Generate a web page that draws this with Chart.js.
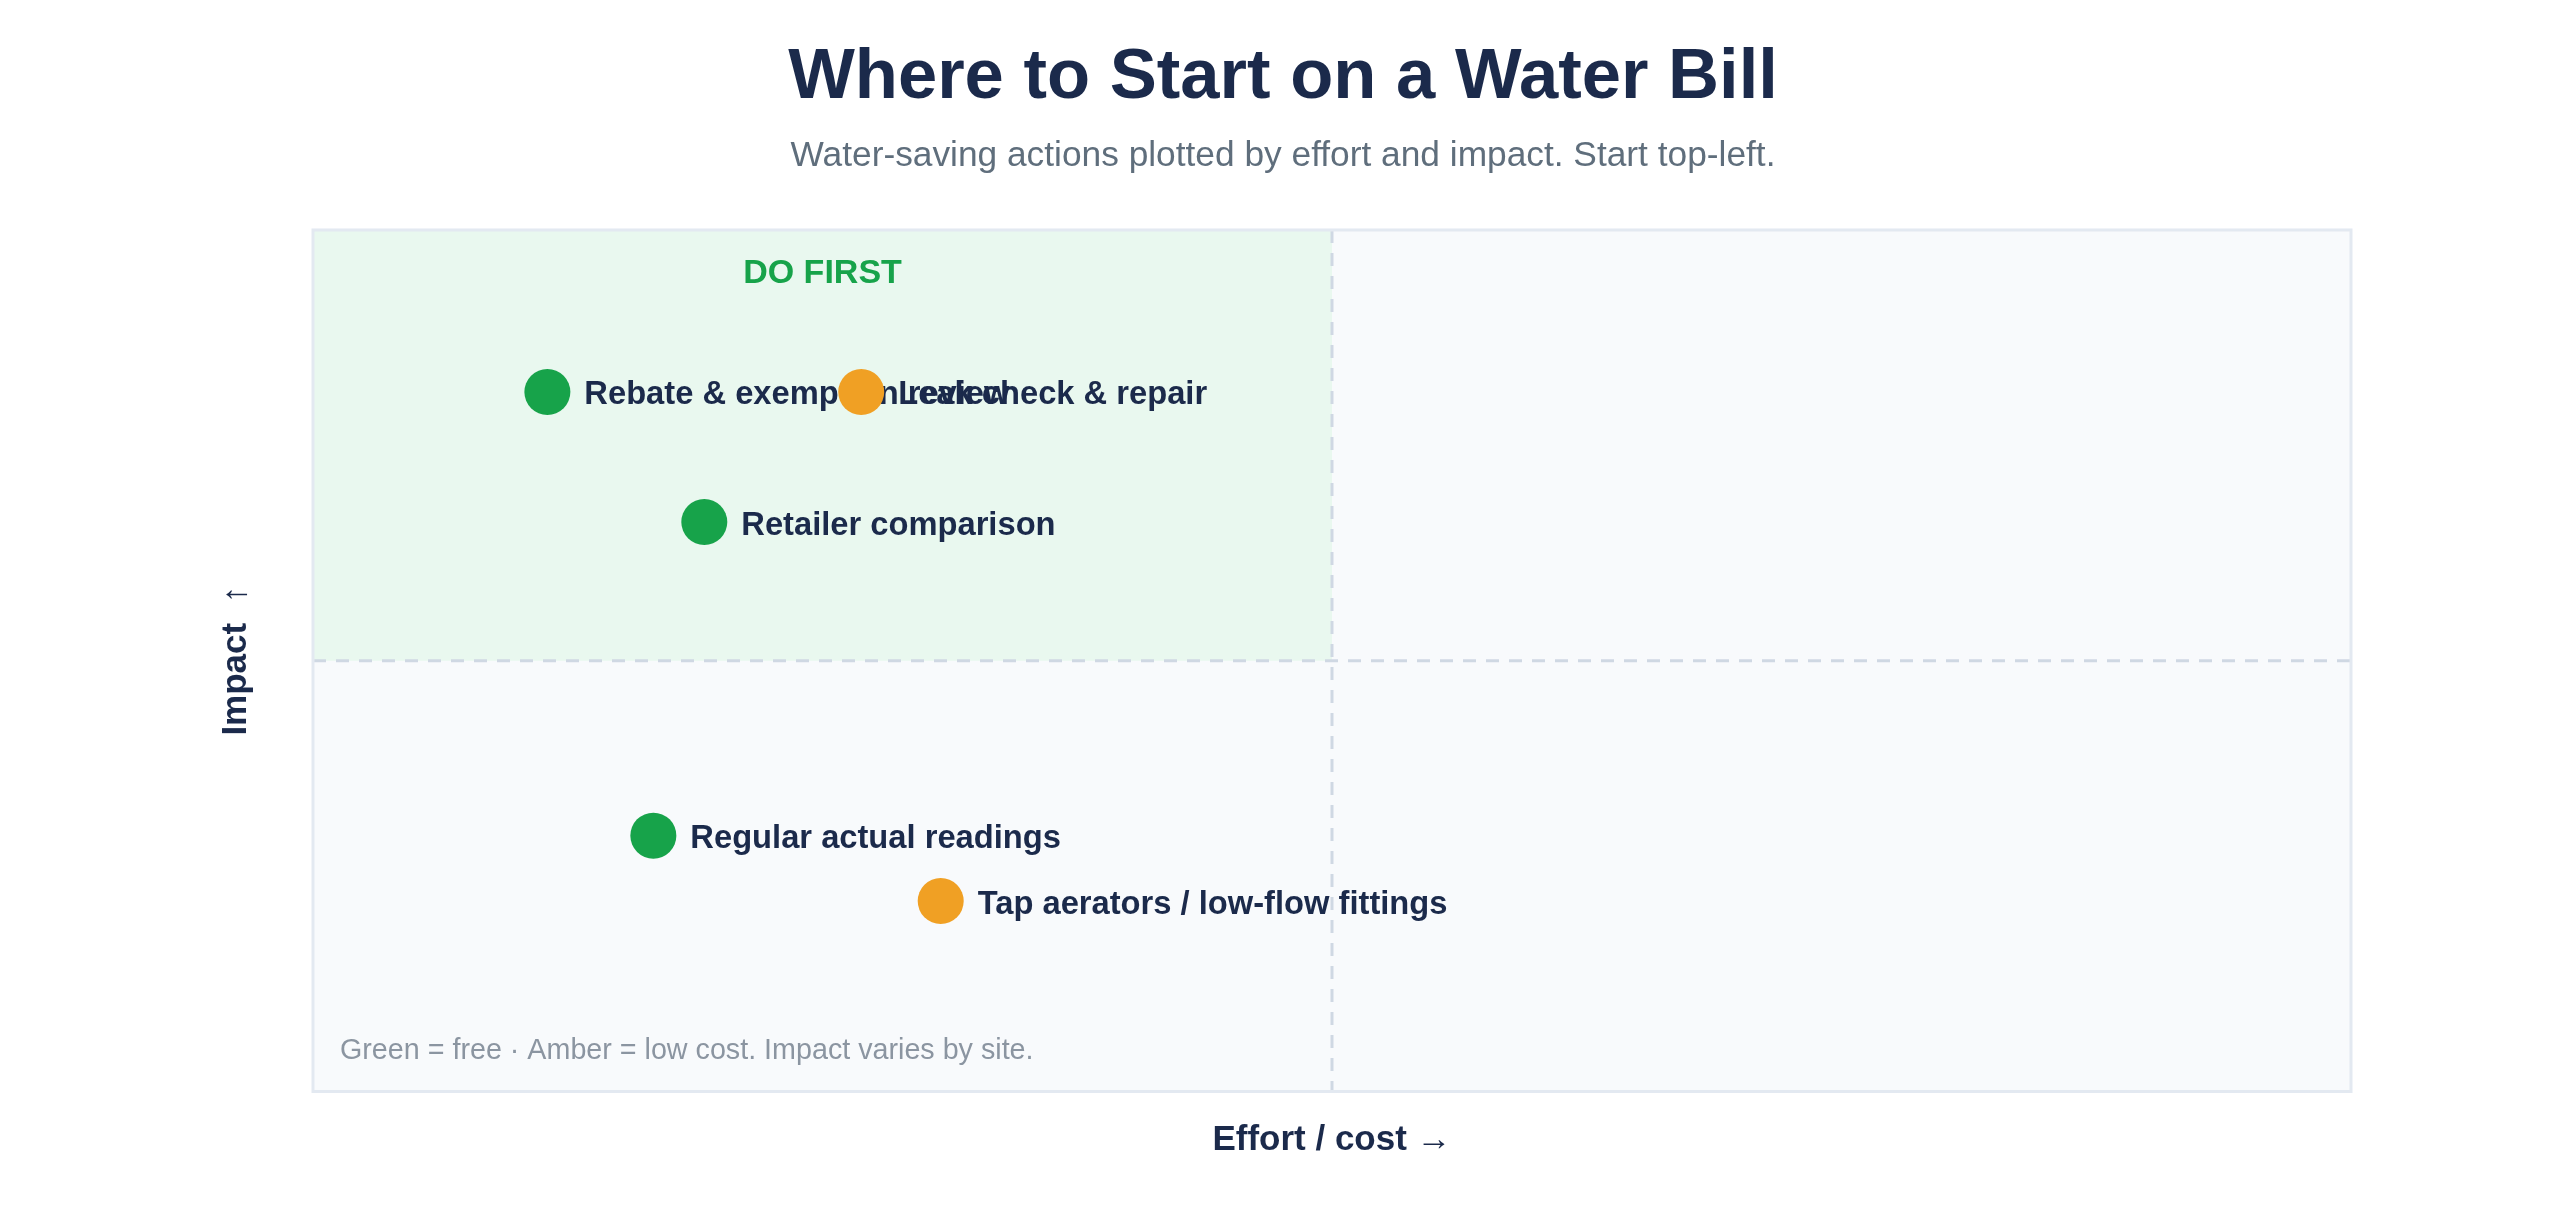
<!DOCTYPE html>
<html>
<head>
<meta charset="utf-8">
<script src="https://cdn.jsdelivr.net/npm/chart.js@4/dist/chart.umd.min.js"></script>
<style>
  html, body { margin: 0; padding: 0; background: #ffffff; }
  #wrap { width: 2560px; height: 1215px; position: relative; }
</style>
</head>
<body>
<div id="wrap"><canvas id="c" width="2560" height="1215"></canvas></div>
<script>
const actions = ['Rebate & exemption review', 'Leak check & repair', 'Retailer comparison', 'Regular actual readings', 'Tap aerators / low-flow fittings'];
const effort = [1.15, 2.69, 1.92, 1.67, 3.08];
const impact = [8.12, 8.12, 6.61, 2.97, 2.21];
const cost = ['free', 'low', 'free', 'free', 'low'];
const axisMin = 0;
const axisMax = 10;
const splitEffort = 5;
const splitImpact = 5;
const quadrantLabel = 'DO FIRST';
const footnote = 'Green = free \u00b7 Amber = low cost. Impact varies by site.';

const FONT = '"Liberation Sans", Arial, Helvetica, sans-serif';
const NAVY = '#1b2a4b';
const costColor = { free: '#17a34a', low: '#f0a024' };

const datasets = actions.map((name, i) => ({
  label: name,
  data: [{ x: effort[i], y: impact[i] }],
  backgroundColor: costColor[cost[i]],
  borderWidth: 0,
  pointRadius: 23,
  pointHoverRadius: 23,
  order: actions.length - i
}));

const quadrantPlugin = {
  id: 'quadrants',
  beforeDatasetsDraw(chart) {
    const { ctx, chartArea: a, scales: { x, y } } = chart;
    const mx = x.getPixelForValue(splitEffort);
    const my = y.getPixelForValue(splitImpact);
    ctx.save();
    ctx.fillStyle = '#f8fafc';
    ctx.fillRect(a.left, a.top, a.right - a.left, a.bottom - a.top);
    ctx.fillStyle = '#e9f8ef';
    ctx.fillRect(a.left, a.top, mx - a.left, my - a.top);
    // dashed dividers
    ctx.strokeStyle = '#cfd8e3';
    ctx.lineWidth = 3;
    ctx.setLineDash([13, 10]);
    ctx.beginPath();
    ctx.moveTo(mx, a.top); ctx.lineTo(mx, a.bottom);
    ctx.moveTo(a.left, my); ctx.lineTo(a.right, my);
    ctx.stroke();
    ctx.setLineDash([]);
    // border
    ctx.strokeStyle = '#e3e9f1';
    ctx.lineWidth = 3;
    ctx.strokeRect(a.left, a.top, a.right - a.left, a.bottom - a.top);
    // quadrant label
    ctx.fillStyle = '#17a34a';
    ctx.font = 'bold 34px ' + FONT;
    ctx.textAlign = 'center';
    ctx.textBaseline = 'middle';
    ctx.fillText(quadrantLabel, (a.left + mx) / 2, a.top + 43.5);
    // footnote
    ctx.fillStyle = '#8b95a1';
    ctx.font = '28.7px ' + FONT;
    ctx.textAlign = 'left';
    ctx.fillText(footnote, a.left + 27, a.bottom - 40.5);
    ctx.restore();
  },
  afterDatasetDraw(chart, args) {
    const { ctx } = chart;
    const el = args.meta.data[0];
    if (!el) return;
    ctx.save();
    ctx.fillStyle = NAVY;
    ctx.font = 'bold 32.7px ' + FONT;
    ctx.textAlign = 'left';
    ctx.textBaseline = 'middle';
    ctx.fillText(actions[args.index], el.x + 37, el.y + 3.5);
    ctx.restore();
  }
};

new Chart(document.getElementById('c'), {
  type: 'scatter',
  data: { datasets },
  plugins: [quadrantPlugin],
  options: {
    responsive: false,
    animation: false,
    devicePixelRatio: 1,
    layout: { padding: { left: 215, right: 209, top: 0, bottom: 53.5 } },
    plugins: {
      legend: { display: false },
      tooltip: { enabled: false },
      title: {
        display: true,
        text: 'Where to Start on a Water Bill',
        color: NAVY,
        font: { family: FONT, size: 70.6, weight: 'bold', lineHeight: 1.2 },
        padding: { top: 36.5, bottom: 14.1 }
      },
      subtitle: {
        display: true,
        text: 'Water-saving actions plotted by effort and impact. Start top-left.',
        color: '#5f6e7c',
        font: { family: FONT, size: 35.3, weight: 'normal', lineHeight: 1.2 },
        padding: { top: 0, bottom: 52.3 }
      }
    },
    scales: {
      x: {
        type: 'linear',
        min: axisMin, max: axisMax,
        ticks: { display: false },
        grid: { display: false, drawTicks: false },
        border: { display: false },
        title: {
          display: true,
          text: 'Effort / cost \u2192',
          color: NAVY,
          font: { family: FONT, size: 35, weight: 'bold', lineHeight: 1.2 },
          padding: { top: 28, bottom: 0 }
        }
      },
      y: {
        type: 'linear',
        min: axisMin, max: axisMax,
        ticks: { display: false },
        grid: { display: false, drawTicks: false },
        border: { display: false },
        title: {
          display: true,
          text: 'Impact  \u2191',
          color: NAVY,
          font: { family: FONT, size: 35, weight: 'bold', lineHeight: 1.2 },
          padding: { top: 0, bottom: 56 }
        }
      }
    }
  }
});
</script>
</body>
</html>
